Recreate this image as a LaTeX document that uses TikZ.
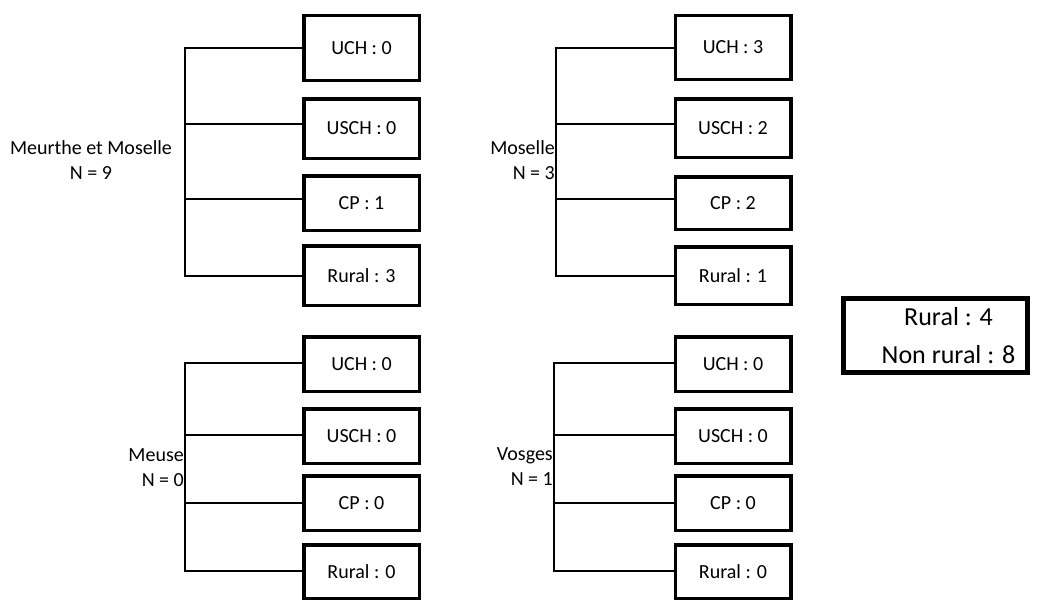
\documentclass[tikz,border=0pt]{standalone}
\usepackage{fontspec}
\setmainfont{Carlito}
\begin{document}
\begin{tikzpicture}[x=1pt,y=-1pt,
  cat/.style={draw=black, line width=3.5pt, minimum width=115.5pt, inner sep=0pt,
    font=\fontsize{20}{24}\selectfont},
  conn/.style={draw=black, line width=2pt},
  dep/.style={inner sep=0pt, font=\fontsize{20}{25}\selectfont},
  summary/.style={draw=black, line width=5pt, minimum width=184pt, minimum height=74pt,
    inner sep=0pt},
  sumtext/.style={inner sep=0pt, align=center, font=\fontsize{26}{38}\selectfont}]
\useasboundingbox (0,0) rectangle (1043,602);

% ---------- Meurthe et Moselle (top left)
\node[cat, minimum height=64.5pt] (a1) at (361.5,48) {UCH : 0};
\node[cat, minimum height=59.5pt] (a2) at (361.5,128.5) {USCH : 0};
\node[cat, minimum height=54.5pt] (a3) at (361.5,203) {CP : 1};
\node[cat, minimum height=59.5pt] (a4) at (361.5,275.5) {Rural : 3};
\coordinate (at) at (185,48);
\coordinate (ab2) at (185,124);
\coordinate (ab3) at (185,199);
\coordinate (ab) at (185,276);
\draw[conn] (a1.west) -- (at) -- (ab) -- (ab -| a4.west);
\draw[conn] (ab2) -- (ab2 -| a2.west);
\draw[conn] (ab3) -- (ab3 -| a3.west);
\node[dep, align=center] (la) at (91,160) {Meurthe et Moselle\\N = 9};

% ---------- Moselle (top right)
\node[cat, minimum height=63.5pt] (b1) at (733,47.5) {UCH : 3};
\node[cat, minimum height=58.5pt] (b2) at (733,128) {USCH : 2};
\node[cat, minimum height=52.5pt] (b3) at (733,203) {CP : 2};
\node[cat, minimum height=57.5pt] (b4) at (733,275.5) {Rural : 1};
\coordinate (bt) at (556,48);
\coordinate (bb2) at (556,124);
\coordinate (bb3) at (556,199);
\coordinate (bb) at (556,276);
\draw[conn] (bt -| b1.west) -- (bt) -- (bb) -- (bb -| b4.west);
\draw[conn] (bb2) -- (bb2 -| b2.west);
\draw[conn] (bb3) -- (bb3 -| b3.west);
\node[dep, align=right, anchor=east] (lb) at (555,160) {Moselle\\N = 3};

% ---------- Meuse (bottom left)
\node[cat, minimum height=54.5pt] (c1) at (361.5,364) {UCH : 0};
\node[cat, minimum height=54.5pt] (c2) at (361.5,436) {USCH : 0};
\node[cat, minimum height=54.5pt] (c3) at (361.5,503) {CP : 0};
\node[cat, minimum height=53.5pt] (c4) at (361.5,571.5) {Rural : 0};
\coordinate (ct) at (185,363);
\coordinate (cb2) at (185,435);
\coordinate (cb3) at (185,503);
\coordinate (cb) at (185,571);
\draw[conn] (ct -| c1.west) -- (ct) -- (cb) -- (cb -| c4.west);
\draw[conn] (cb2) -- (cb2 -| c2.west);
\draw[conn] (cb3) -- (cb3 -| c3.west);
\node[dep, align=right, anchor=east] (lc) at (184,468) {Meuse\\N = 0};

% ---------- Vosges (bottom right)
\node[cat, minimum height=54.5pt] (d1) at (733,364) {UCH : 0};
\node[cat, minimum height=54.5pt] (d2) at (733,436) {USCH : 0};
\node[cat, minimum height=54.5pt] (d3) at (733,503) {CP : 0};
\node[cat, minimum height=53.5pt] (d4) at (733,571.5) {Rural : 0};
\coordinate (dt) at (554,363);
\coordinate (db2) at (554,435);
\coordinate (db3) at (554,503);
\coordinate (db) at (554,571);
\draw[conn] (dt -| d1.west) -- (dt) -- (db) -- (db -| d4.west);
\draw[conn] (db2) -- (db2 -| d2.west);
\draw[conn] (db3) -- (db3 -| d3.west);
\node[dep, align=right, anchor=east] (ld) at (553,467) {Vosges\\N = 1};

% ---------- Summary
\node[summary] (s) at (935.5,335.5) {};
\node[sumtext] (st) at (948.5,336) {Rural : 4\\Non rural : 8};
\end{tikzpicture}
\end{document}
